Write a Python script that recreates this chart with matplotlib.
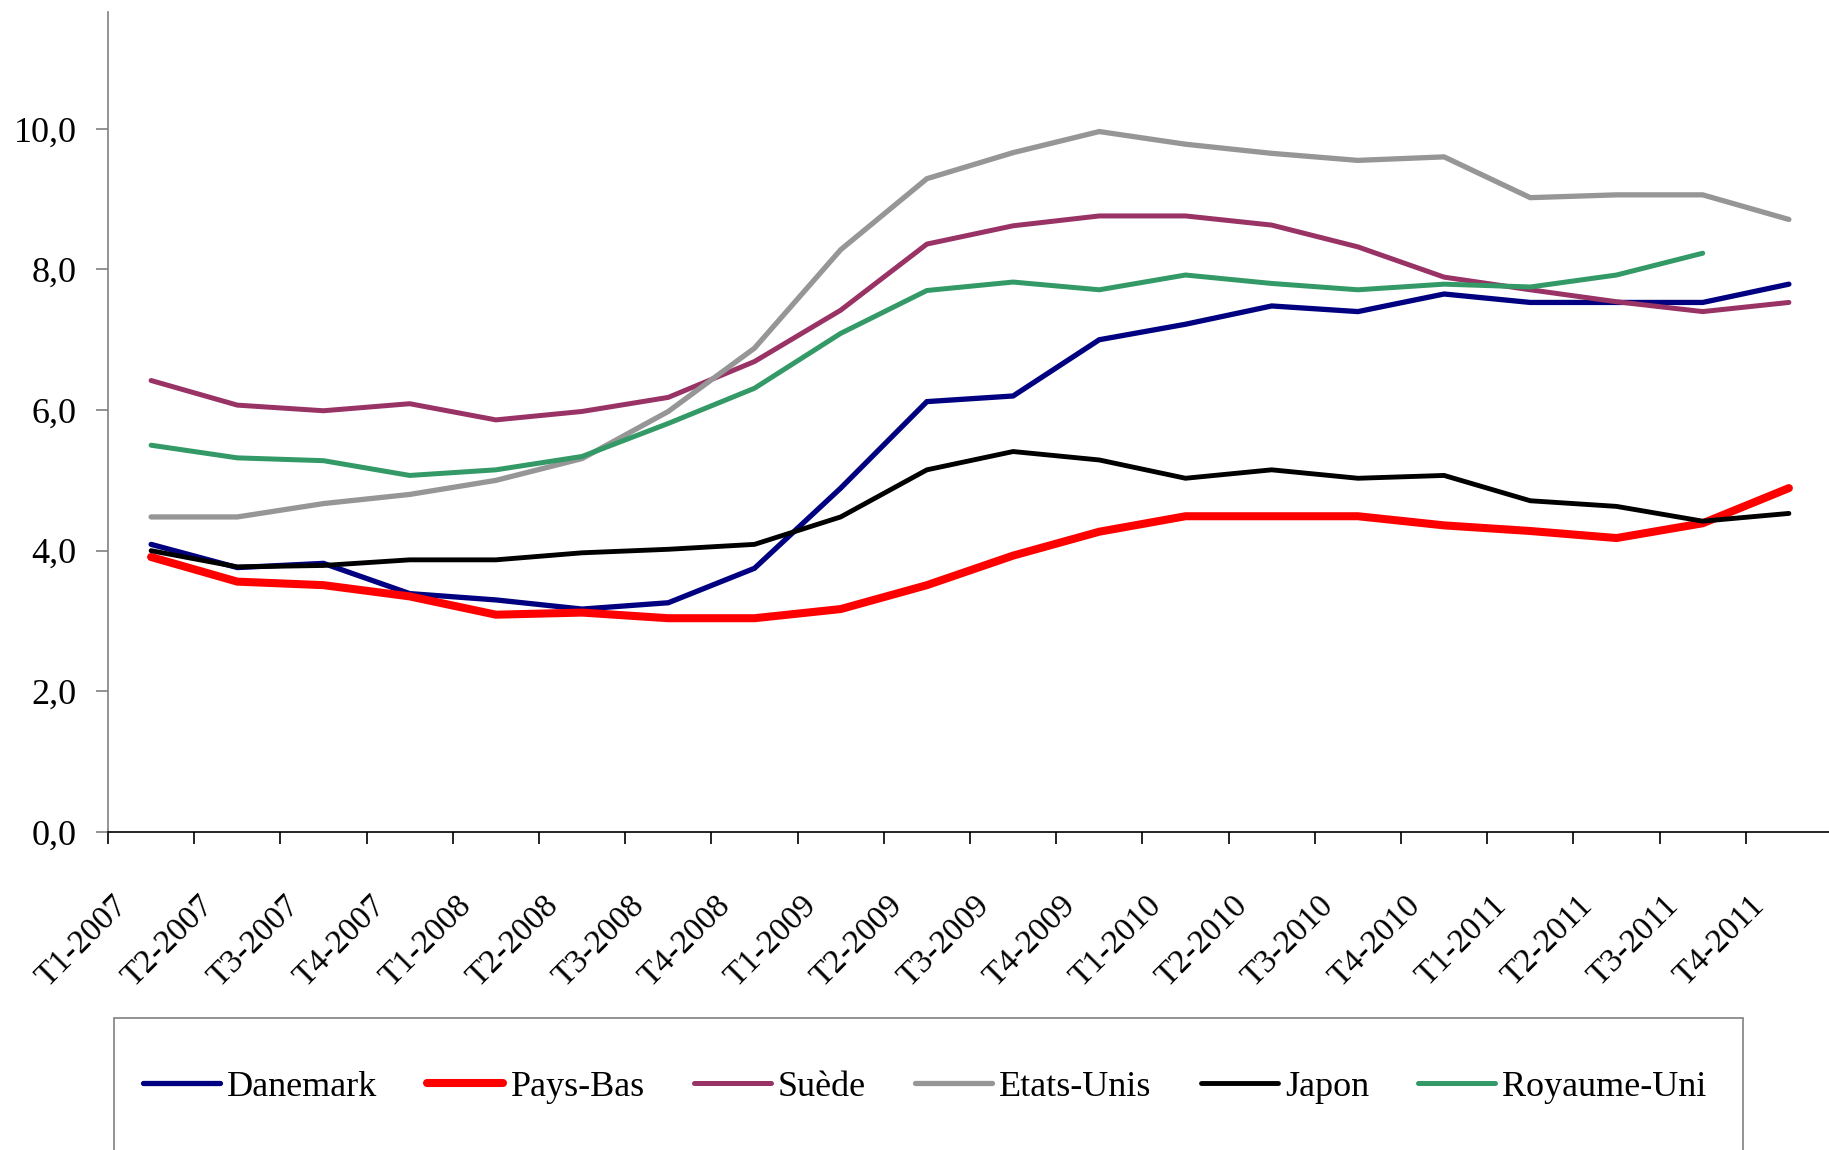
import matplotlib
matplotlib.use("Agg")
import matplotlib.pyplot as plt
from matplotlib.patches import Rectangle
from matplotlib.transforms import ScaledTranslation
import numpy as np

quarters = ["T1-2007", "T2-2007", "T3-2007", "T4-2007",
            "T1-2008", "T2-2008", "T3-2008", "T4-2008",
            "T1-2009", "T2-2009", "T3-2009", "T4-2009",
            "T1-2010", "T2-2010", "T3-2010", "T4-2010",
            "T1-2011", "T2-2011", "T3-2011", "T4-2011"]

danemark = [4.09, 3.76, 3.82, 3.39, 3.30, 3.17, 3.26, 3.75, 4.89, 6.12,
            6.20, 7.00, 7.22, 7.48, 7.40, 7.65, 7.53, 7.53, 7.53, 7.79]
pays_bas = [3.91, 3.56, 3.51, 3.35, 3.09, 3.12, 3.04, 3.04, 3.17, 3.51,
            3.93, 4.27, 4.49, 4.49, 4.49, 4.36, 4.28, 4.18, 4.39, 4.89]
suede = [6.42, 6.07, 5.99, 6.09, 5.86, 5.98, 6.18, 6.69, 7.42, 8.36,
         8.62, 8.76, 8.76, 8.63, 8.32, 7.89, 7.71, 7.54, 7.40, 7.53]
etats_unis = [4.48, 4.48, 4.67, 4.80, 5.00, 5.31, 5.98, 6.88, 8.28, 9.29,
              9.66, 9.96, 9.78, 9.65, 9.55, 9.60, 9.02, 9.06, 9.06, 8.71]
japon = [4.00, 3.77, 3.79, 3.87, 3.87, 3.97, 4.02, 4.09, 4.48, 5.15,
         5.41, 5.29, 5.03, 5.15, 5.03, 5.07, 4.71, 4.63, 4.42, 4.53]
royaume_uni = [5.50, 5.32, 5.28, 5.07, 5.15, 5.34, 5.81, 6.31, 7.09, 7.70,
               7.82, 7.71, 7.92, 7.80, 7.71, 7.79, 7.75, 7.92, 8.23, np.nan]

series_names = ["Danemark", "Pays-Bas", "Suède", "Etats-Unis", "Japon", "Royaume-Uni"]
series_values = [danemark, pays_bas, suede, etats_unis, japon, royaume_uni]
series_colors = ["#000080", "#FF0000", "#993366", "#969696", "#000000", "#339966"]
series_widths = [3.8, 5.8, 3.6, 3.8, 3.5, 3.6]

ytick_values = [0, 2, 4, 6, 8, 10]
ytick_labels = ["0,0", "2,0", "4,0", "6,0", "8,0", "10,0"]

W, H = 1829, 1150
plt.rcParams["font.family"] = ["Liberation Serif", "DejaVu Serif"]
fig = plt.figure(figsize=(W / 100, H / 100), dpi=100)

ax_left, ax_right, ax_top, ax_bottom = 108, 1832, 12, 832
ax = fig.add_axes([ax_left / W, 1 - ax_bottom / H,
                   (ax_right - ax_left) / W, (ax_bottom - ax_top) / H])

x = np.arange(len(quarters))
for name, vals, col, lw in zip(series_names, series_values, series_colors, series_widths):
    ax.plot(x, vals, color=col, lw=lw, label=name,
            solid_capstyle="round", solid_joinstyle="miter")

ax.set_xlim(-0.5, len(quarters) - 0.5)
ax.set_ylim(0, 11.66)

ax.spines["top"].set_visible(False)
ax.spines["right"].set_visible(False)
ax.spines["left"].set_color("#808080")
ax.spines["left"].set_linewidth(1.2)
ax.spines["bottom"].set_color("#000000")
ax.spines["bottom"].set_linewidth(1.2)

ax.set_yticks(ytick_values)
ax.set_yticklabels(ytick_labels, fontsize=26)
ax.tick_params(axis="y", length=8.6, width=1.2, color="#808080", pad=14)

ax.set_xticks(x)
ax.set_xticklabels(quarters, fontsize=24, rotation=45, ha="right", va="top")
ax.set_xticks(np.arange(len(quarters) + 1) - 0.5, minor=True)
ax.tick_params(axis="x", which="major", length=0, pad=42)
ax.tick_params(axis="x", which="minor", length=8.6, width=1.2, color="#000000")
offset = ScaledTranslation(-18 / 100, 0, fig.dpi_scale_trans)
for lab in ax.get_xticklabels():
    lab.set_transform(lab.get_transform() + offset)

# legend box (cropped at the bottom of the picture)
box_left, box_right, box_top = 114, 1743, 1018
fig.patches.append(Rectangle((box_left / W, -0.1), (box_right - box_left) / W,
                             (H - box_top) / H + 0.1, transform=fig.transFigure,
                             facecolor="none", edgecolor="#808080", lw=1.2))

handles, labels = ax.get_legend_handles_labels()
fig.legend(handles, labels, loc="center left",
           bbox_to_anchor=(143 / W, 1 - 1087 / H), ncol=6, frameon=False,
           fontsize=26, handlelength=2.13, handletextpad=0.2,
           columnspacing=1.36, borderpad=0, borderaxespad=0)

fig.savefig("out.png", dpi=100, facecolor="white")
